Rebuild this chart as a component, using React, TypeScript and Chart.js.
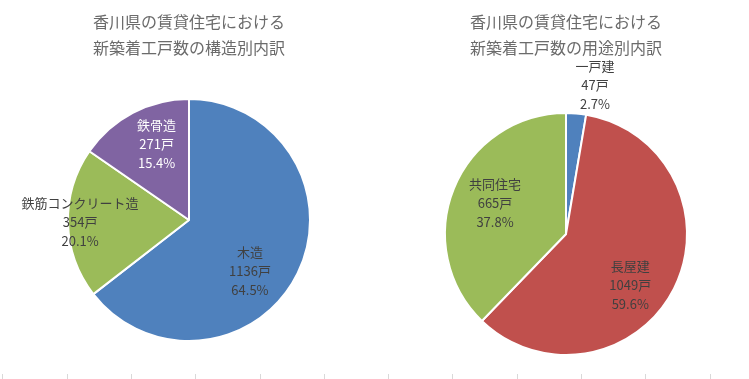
import React, { useEffect, useRef } from "react";
import { Chart, registerables } from "chart.js";

Chart.register(...registerables);

// ---- data ----
const leftCategories = ["木造", "鉄筋コンクリート造", "鉄骨造"];
const leftValues = [1136, 354, 271];
const leftColors = ["#4F81BD", "#9BBB59", "#8064A2"];
const leftTitle = ["香川県の賃貸住宅における", "新築着工戸数の構造別内訳"];

const rightCategories = ["一戸建", "長屋建", "共同住宅"];
const rightValues = [47, 1049, 665];
const rightColors = ["#4F81BD", "#C0504D", "#9BBB59"];
const rightTitle = ["香川県の賃貸住宅における", "新築着工戸数の用途別内訳"];

const unit = "戸";

// ---- label placement (style, not data): angle shift in degrees, distance as fraction of radius ----
const leftPlace = [
  { da: 13.8, df: 0.657, color: "#404040" },
  { da: 0.6, df: 0.9, color: "#404040" },
  { da: 4.7, df: 0.686, color: "#FFFFFF" },
];
const rightPlace = [
  { da: 6.2, df: 1.255, color: "#404040" },
  { da: 11.6, df: 0.678, color: "#404040" },
  { da: 1.5, df: 0.64, color: "#404040" },
];

const FONT = '"Noto Sans CJK JP", "Noto Sans", sans-serif';

function makePlugins(title: string[], place: { da: number; df: number; color: string }[], drawTicks: boolean) {
  return [
    {
      id: "custom-text",
      afterDatasetsDraw(chart: any) {
        const ctx = chart.ctx;
        const meta = chart.getDatasetMeta(0);
        const ds = chart.data.datasets[0];
        const vals = ds.data as number[];
        const total = vals.reduce((a, b) => a + b, 0);
        const labels = chart.data.labels as string[];
        ctx.save();
        ctx.textAlign = "center";
        ctx.textBaseline = "middle";
        ctx.font = `13px ${FONT}`;
        meta.data.forEach((arc: any, i: number) => {
          const p = arc.getProps(["x", "y", "startAngle", "endAngle", "outerRadius"], true);
          const mid = (p.startAngle + p.endAngle) / 2 + (place[i].da * Math.PI) / 180;
          const d = place[i].df * p.outerRadius;
          const cx = p.x + Math.cos(mid) * d;
          const cy = p.y + Math.sin(mid) * d;
          ctx.fillStyle = place[i].color;
          const lines = [labels[i], `${vals[i]}${unit}`, `${((vals[i] / total) * 100).toFixed(1)}%`];
          lines.forEach((t, j) => ctx.fillText(t, cx, cy + (j - 1) * 19));
        });
        // title
        const ca = chart.chartArea;
        const tx = (ca.left + ca.right) / 2;
        ctx.font = `16px ${FONT}`;
        ctx.fillStyle = "#6B6B6B";
        ctx.fillText(title[0], tx, 22);
        ctx.fillText(title[1], tx, 48);
        if (drawTicks) {
          ctx.strokeStyle = "#D9D9D9";
          ctx.lineWidth = 1;
          for (let k = 0; k < 12; k++) {
            const x = Math.round(2.4 + 64.3 * k) + 0.5;
            ctx.beginPath();
            ctx.moveTo(x, 374);
            ctx.lineTo(x, 379);
            ctx.stroke();
          }
        }
        ctx.restore();
      },
    },
  ];
}

function makeConfig(
  labels: string[],
  values: number[],
  colors: string[],
  padding: { left: number; right: number; top: number; bottom: number },
  title: string[],
  place: { da: number; df: number; color: string }[],
  drawTicks: boolean
): any {
  return {
    type: "pie",
    data: {
      labels,
      datasets: [
        {
          data: values,
          backgroundColor: colors,
          borderColor: "#FFFFFF",
          borderWidth: 2,
          radius: 121,
        },
      ],
    },
    options: {
      responsive: false,
      animation: false,
      radius: 121,
      layout: { padding },
      plugins: {
        legend: { display: false },
        tooltip: { enabled: false },
        title: { display: false },
      },
    },
    plugins: makePlugins(title, place, drawTicks),
  };
}

export default function App() {
  const leftRef = useRef<HTMLCanvasElement | null>(null);
  const rightRef = useRef<HTMLCanvasElement | null>(null);

  useEffect(() => {
    if (!leftRef.current || !rightRef.current) return;
    const c1 = new Chart(
      leftRef.current,
      makeConfig(leftCategories, leftValues, leftColors, { left: 0, right: 371, top: 61, bottom: 0 }, leftTitle, leftPlace, true)
    );
    const c2 = new Chart(
      rightRef.current,
      makeConfig(rightCategories, rightValues, rightColors, { left: 383, right: 0, top: 89, bottom: 0 }, rightTitle, rightPlace, false)
    );
    return () => {
      c1.destroy();
      c2.destroy();
    };
  }, []);

  const canvasStyle: React.CSSProperties = { position: "absolute", left: 0, top: 0, width: 749, height: 379, display: "block" };

  return (
    <div style={{ position: "fixed", left: 0, top: 0, width: 749, height: 379, background: "#FFFFFF", overflow: "hidden" }}>
      <canvas ref={leftRef} width={749} height={379} style={canvasStyle} />
      <canvas ref={rightRef} width={749} height={379} style={canvasStyle} />
    </div>
  );
}
